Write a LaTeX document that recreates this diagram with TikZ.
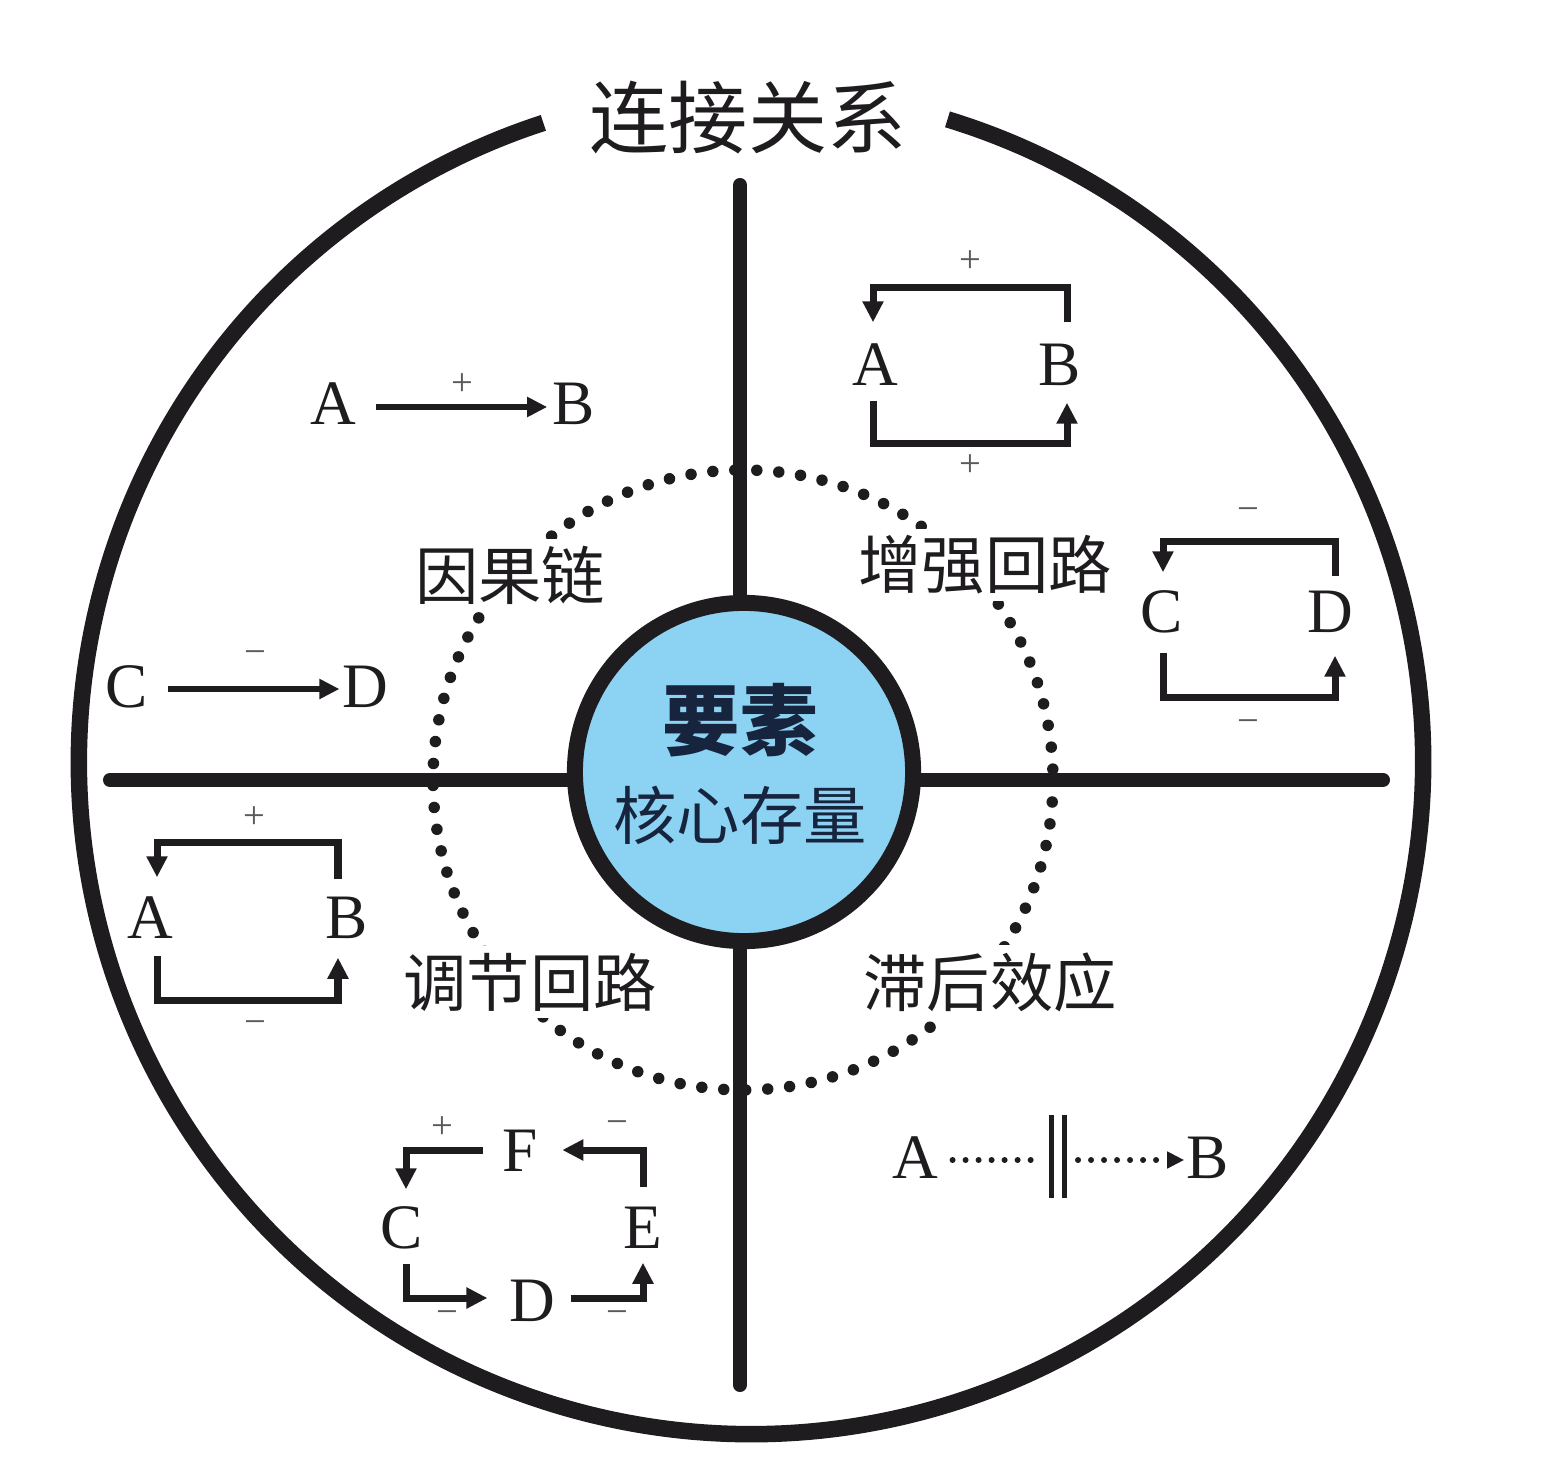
\documentclass[tikz,border=0pt]{standalone}
\usepackage{fontspec}
\setmainfont{Liberation Serif}
\newfontfamily\cjk{Noto Sans CJK SC}
\usetikzlibrary{arrows.meta,calc}
\definecolor{coreblue}{RGB}{140,210,242}
\definecolor{navy}{RGB}{22,36,62}
\definecolor{ink}{RGB}{30,28,30}
\definecolor{signgray}{RGB}{90,90,90}
\begin{document}
\begin{tikzpicture}[x=0.01cm,y=-0.01cm,
  lt/.style={font=\fontsize{18}{18}\selectfont, text=ink, inner sep=0pt, text height=0.42cm, text depth=0pt},
  sg/.style={font=\fontsize{11}{11}\selectfont, text=signgray, inner sep=0pt},
  lb/.style={font=\cjk\fontsize{18}{18}\selectfont, text=ink, fill=white, inner sep=2pt},
  lp/.style={draw=ink, line width=0.07cm, line join=miter, -{Triangle[width=0.2cm,length=0.21cm]}},
  ch/.style={draw=ink, line width=0.06cm, -{Triangle[width=0.19cm,length=0.2cm]}},
  dl/.style={draw=ink, line width=0.06cm, line cap=round, dash pattern=on 0pt off 0.13cm},
  bigline/.style={draw=ink, line width=0.14cm, line cap=round},
  dotring/.style={draw=ink, line width=0.115cm, line cap=round, dash pattern=on 0pt off 0.22cm}]
\useasboundingbox (0,0) rectangle (1546,1458);

% outer ring with gap for the title
\draw[ink, line width=0.165cm] (751,762) ++(-73:672) arc[start angle=-73, end angle=252, radius=672];
\node[font=\cjk\fontsize{22.5}{22.5}\selectfont, text=ink, inner sep=0pt] (title) at (748,118) {连接关系};

% dotted ring and quadrant labels
\draw[dotring] (743,780) circle[radius=310];
\node[lb] (l1) at (510,575) {因果链};
\node[lb] (l2) at (985,565) {增强回路};
\node[lb] (l3) at (530,982) {调节回路};
\node[lb] (l4) at (990,982) {滞后效应};

% cross
\coordinate (vt) at (740,185);
\coordinate (vb) at (740,1385);
\coordinate (hl) at (110,780);
\coordinate (hr) at (1383,780);
\draw[bigline] (vt) -- (vb);
\draw[bigline] (hl) -- (hr);

% core
\node[circle, draw=ink, line width=0.16cm, fill=coreblue, minimum size=3.38cm, inner sep=0pt] (core) at (744,772) {};
\node[font=\cjk\bfseries\fontsize{22}{22}\selectfont, text=navy, inner sep=0pt] (k1) at (740,720) {要素};
\node[font=\cjk\fontsize{18}{18}\selectfont, text=navy, inner sep=0pt] (k2) at (740,815) {核心存量};

% causal chains
\node[lt] (a0) at (333,403) {A};
\node[lt] (b0) at (574,403) {B};
\draw[ch] ([xshift=0.19cm,yshift=-0.04cm]a0.east) -- ([xshift=-0.05cm,yshift=-0.04cm]b0.west);
\node[sg] (p0) at (462,385) {+};
\node[lt] (c0) at (127,686) {C};
\node[lt] (d0) at (365,686) {D};
\draw[ch] ([xshift=0.19cm,yshift=-0.03cm]c0.east) -- ([xshift=-0.02cm,yshift=-0.03cm]d0.west);
\node[sg] (m0) at (255,658) {−};

% reinforcing loop A B
\node[lt] (a1) at (875,364) {A};
\node[lt] (b1) at (1060,364) {B};
\draw[lp] ([xshift=0.07cm,yshift=0.2cm]b1.north) -- ++(0,-35) -| ([xshift=-0.02cm,yshift=0.2cm]a1.north);
\draw[lp] ([xshift=-0.02cm,yshift=-0.15cm]a1.south) -- ++(0,43) -| ([xshift=0.07cm,yshift=-0.17cm]b1.south);
\node[sg] (p1) at (970,262) {+};
\node[sg] (p2) at (970,466) {+};

% reinforcing loop C D
\node[lt] (c2) at (1162,611) {C};
\node[lt] (d2) at (1330,611) {D};
\draw[lp] ([xshift=0.05cm,yshift=0.13cm]d2.north) -- ++(0,-35) -| ([xshift=0.01cm,yshift=0.17cm]c2.north);
\draw[lp] ([xshift=0.01cm,yshift=-0.2cm]c2.south) -- ++(0,45) -| ([xshift=0.05cm,yshift=-0.23cm]d2.south);
\node[sg] (m1) at (1248,515) {−};
\node[sg] (m2) at (1248,727) {−};

% balancing loop A B
\node[lt] (a3) at (150,917) {A};
\node[lt] (b3) at (347,917) {B};
\draw[lp] ([xshift=-0.09cm,yshift=0.16cm]b3.north) -- ++(0,-37) -| ([xshift=0.07cm,yshift=0.18cm]a3.north);
\draw[lp] ([xshift=0.07cm,yshift=-0.17cm]a3.south) -- ++(0,45) -| ([xshift=-0.09cm,yshift=-0.19cm]b3.south);
\node[sg] (p3) at (254,818) {+};
\node[sg] (m3) at (255,1028) {−};

% balancing loop C D E F
\node[lt] (c4) at (402,1227) {C};
\node[lt] (f4) at (520,1150) {F};
\node[lt] (e4) at (643,1227) {E};
\node[lt] (d4) at (532,1300) {D};
\draw[lp] ([xshift=-0.19cm]f4.west) -| ([xshift=0.04cm,yshift=0.16cm]c4.north);
\draw[lp] ([yshift=0.18cm]e4.north) |- ([xshift=0.24cm]f4.east);
\draw[lp] ([xshift=0.04cm,yshift=-0.15cm]c4.south) |- ([xshift=-0.21cm,yshift=0.02cm]d4.west);
\draw[lp] ([xshift=0.15cm,yshift=0.02cm]d4.east) -| ([yshift=-0.14cm]e4.south);
\node[sg] (p4) at (442,1128) {+};
\node[sg] (m4) at (617,1128) {−};
\node[sg] (m5) at (447,1318) {−};
\node[sg] (m6) at (617,1318) {−};

% delay
\node[lt] (a5) at (915,1157) {A};
\node[lt] (b5) at (1208,1157) {B};
\coordinate (bar) at (1058,1157);
\draw[dl] ([xshift=0.14cm,yshift=-0.03cm]a5.east) -- ([xshift=-0.18cm,yshift=-0.03cm]bar);
\draw[ink, line width=0.05cm] ([xshift=-0.065cm,yshift=0.42cm]bar) -- ([xshift=-0.065cm,yshift=-0.41cm]bar);
\draw[ink, line width=0.05cm] ([xshift=0.065cm,yshift=0.42cm]bar) -- ([xshift=0.065cm,yshift=-0.41cm]bar);
\draw[dl, -{Triangle[width=0.16cm,length=0.17cm]}] ([xshift=0.2cm,yshift=-0.03cm]bar) -- ([xshift=-0.02cm,yshift=-0.03cm]b5.west);
\end{tikzpicture}
\end{document}
